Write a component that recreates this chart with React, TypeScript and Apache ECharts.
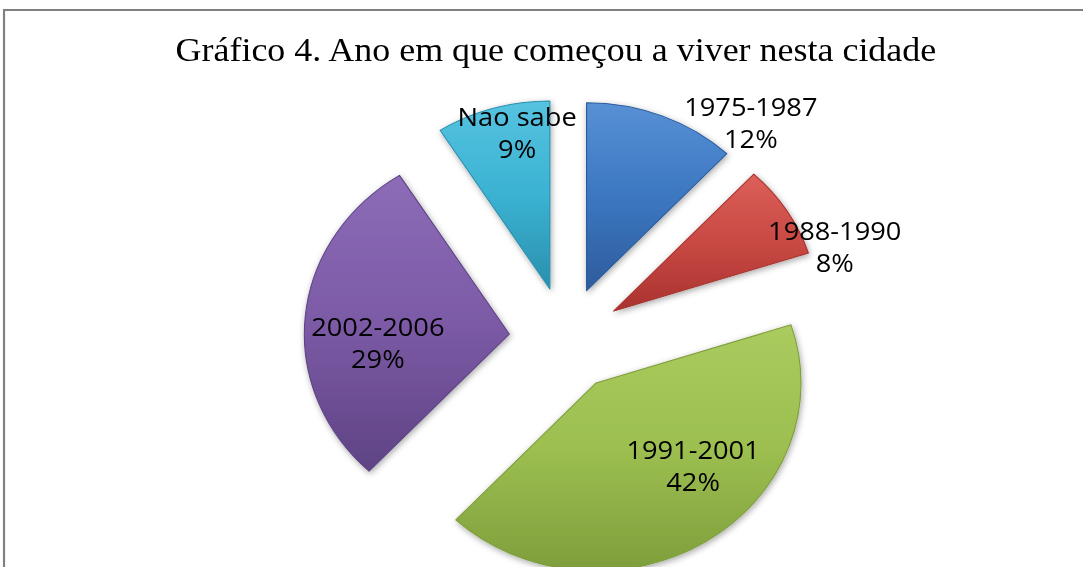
import React, { useEffect, useRef } from "react";
import * as echarts from "echarts";

const TITLE = "Gráfico 4. Ano em que começou a viver nesta cidade";
const categories = ["1975-1987", "1988-1990", "1991-2001", "2002-2006", "Nao sabe"];
const values = [12, 8, 42, 29, 9];
const baseColors = ["#3C77C1", "#C94944", "#9CBF50", "#7C5AA6", "#3BB2D2"];
const lightColors = ["#5890D5", "#DC5F59", "#AACB5E", "#8D6CB7", "#55C3E0"];
const darkColors = ["#2D5C9C", "#A8322E", "#7E9E3C", "#5E4384", "#2A8FAD"];
// label nudges (pixels, chart coordinates) relative to the default inside position
const labelNudges: [number, number][] = [
  [115, -78],
  [121, -13],
  [37, 1],
  [-24, 17],
  [-3, -63],
];

const STRETCH_X = 1.09;
const CHART_W = Math.round(1083 / STRETCH_X);

export default function App() {
  const ref = useRef<HTMLDivElement>(null);
  useEffect(() => {
    document.body.style.margin = "0";
    const chart = echarts.init(ref.current!, undefined, { renderer: "svg" });
    const data = categories.map((name, i) => ({
      name,
      value: values[i],
      selected: true,
      itemStyle: {
        color: new echarts.graphic.LinearGradient(0, 0, 0, 1, [
          { offset: 0, color: lightColors[i] },
          { offset: 0.5, color: baseColors[i] },
          { offset: 1, color: darkColors[i] },
        ]),
        borderColor: darkColors[i],
      },
    }));
    chart.setOption({
      animation: false,
      backgroundColor: "#ffffff",
      title: {
        text: TITLE,
        left: 505,
        top: 28,
        textAlign: "center",
        textStyle: {
          fontFamily: "Liberation Serif",
          fontWeight: "normal",
          fontSize: 33,
          color: "#000000",
        },
      },
      graphic: [
        {
          type: "polyline",
          shape: { points: [[3.7, 700], [3.7, 10], [1200, 10]] },
          style: { fill: "none", stroke: "#808080", lineWidth: 2 },
          silent: true,
        },
      ],
      series: [
        {
          type: "pie",
          center: [519, 339],
          radius: 188,
          startAngle: 90,
          clockwise: true,
          selectedMode: "multiple",
          selectedOffset: 52,
          avoidLabelOverlap: false,
          data,
          itemStyle: {
            borderWidth: 1,
            shadowBlur: 6,
            shadowColor: "rgba(0,0,0,0.35)",
            shadowOffsetX: 1,
            shadowOffsetY: 2,
          },
          label: {
            show: true,
            position: "inside",
            formatter: "{b}\n{d}%",
            fontFamily: "Open Sans",
            fontSize: 25,
            lineHeight: 32,
            color: "#000000",
            align: "center",
          },
          labelLine: { show: false },
          labelLayout: (params: any) => {
            const n = labelNudges[params.dataIndex] || [0, 0];
            return { dx: n[0], dy: n[1] };
          },
          emphasis: { disabled: true },
        },
      ],
    });
    return () => chart.dispose();
  }, []);
  return (
    <div style={{ width: 1083, height: 567, overflow: "hidden", position: "relative" }}>
      <div
        ref={ref}
        style={{
          width: CHART_W,
          height: 567,
          transform: `scaleX(${STRETCH_X})`,
          transformOrigin: "0 0",
        }}
      />
    </div>
  );
}
